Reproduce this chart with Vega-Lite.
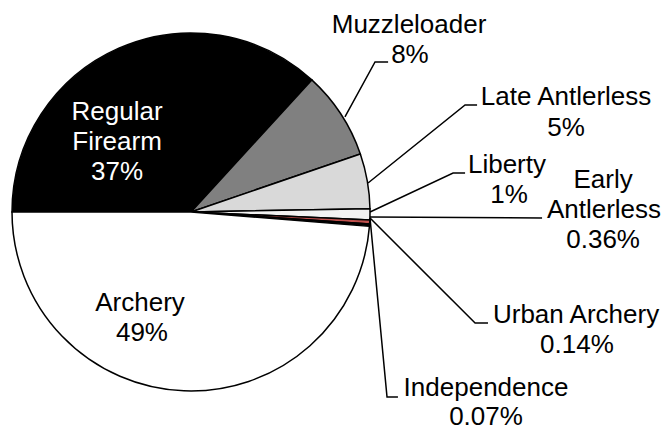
{
  "$schema": "https://vega.github.io/schema/vega-lite/v6.json",
  "width": 667,
  "height": 434,
  "padding": 0,
  "autosize": {"type": "fit", "contains": "padding"},
  "background": "white",
  "config": {"view": {"stroke": null}},
  "datasets": {
    "slices": [
      {"season": "Regular Firearm", "pct": 37, "rank": 1},
      {"season": "Muzzleloader", "pct": 8, "rank": 2},
      {"season": "Late Antlerless", "pct": 5, "rank": 3},
      {"season": "Liberty", "pct": 1, "rank": 4},
      {"season": "Early Antlerless", "pct": 0.36, "rank": 5},
      {"season": "Urban Archery", "pct": 0.14, "rank": 6},
      {"season": "Independence", "pct": 0.07, "rank": 7},
      {"season": "Archery", "pct": 49, "rank": 8}
    ],
    "leaders": [
      {"season": "Muzzleloader", "pt": 0, "x": 0.860, "y": 0.531},
      {"season": "Muzzleloader", "pt": 1, "x": 1.028, "y": 0.838},
      {"season": "Muzzleloader", "pt": 2, "x": 1.101, "y": 0.838},
      {"season": "Late Antlerless", "pt": 0, "x": 0.989, "y": 0.162},
      {"season": "Late Antlerless", "pt": 1, "x": 1.531, "y": 0.598},
      {"season": "Late Antlerless", "pt": 2, "x": 1.598, "y": 0.598},
      {"season": "Liberty", "pt": 0, "x": 1.0, "y": 0.0},
      {"season": "Liberty", "pt": 1, "x": 1.464, "y": 0.218},
      {"season": "Liberty", "pt": 2, "x": 1.531, "y": 0.218},
      {"season": "Early Antlerless", "pt": 0, "x": 1.0, "y": -0.028},
      {"season": "Early Antlerless", "pt": 1, "x": 1.961, "y": -0.034},
      {"season": "Urban Archery", "pt": 0, "x": 1.0, "y": -0.034},
      {"season": "Urban Archery", "pt": 1, "x": 1.587, "y": -0.620},
      {"season": "Urban Archery", "pt": 2, "x": 1.659, "y": -0.620},
      {"season": "Independence", "pt": 0, "x": 1.0, "y": -0.034},
      {"season": "Independence", "pt": 1, "x": 1.095, "y": -1.034},
      {"season": "Independence", "pt": 2, "x": 1.156, "y": -1.034}
    ],
    "labels": [
      {"text": "Regular", "x": -0.413, "y": 0.559, "inside": "dark"},
      {"text": "Firearm", "x": -0.413, "y": 0.391, "inside": "dark"},
      {"text": "37%", "x": -0.413, "y": 0.223, "inside": "dark"},
      {"text": "Archery", "x": -0.285, "y": -0.508, "inside": "light"},
      {"text": "49%", "x": -0.274, "y": -0.676, "inside": "light"},
      {"text": "Muzzleloader", "x": 1.218, "y": 1.045, "inside": "light"},
      {"text": "8%", "x": 1.223, "y": 0.877, "inside": "light"},
      {"text": "Late Antlerless", "x": 2.095, "y": 0.642, "inside": "light"},
      {"text": "5%", "x": 2.095, "y": 0.469, "inside": "light"},
      {"text": "Liberty", "x": 1.765, "y": 0.263, "inside": "light"},
      {"text": "1%", "x": 1.777, "y": 0.095, "inside": "light"},
      {"text": "Early", "x": 2.302, "y": 0.179, "inside": "light"},
      {"text": "Antlerless", "x": 2.307, "y": 0.011, "inside": "light"},
      {"text": "0.36%", "x": 2.302, "y": -0.156, "inside": "light"},
      {"text": "Urban Archery", "x": 2.151, "y": -0.575, "inside": "light"},
      {"text": "0.14%", "x": 2.156, "y": -0.743, "inside": "light"},
      {"text": "Independence", "x": 1.648, "y": -0.983, "inside": "light"},
      {"text": "0.07%", "x": 1.648, "y": -1.145, "inside": "light"}
    ]
  },
  "layer": [
    {
      "data": {"name": "slices"},
      "mark": {"type": "arc", "radius": 179, "stroke": "black", "strokeWidth": 1.5},
      "encoding": {
        "x": {"datum": 0, "type": "quantitative", "scale": {"domain": [-1.067, 2.659], "nice": false, "zero": false}, "axis": null},
        "y": {"datum": 0, "type": "quantitative", "scale": {"domain": [-1.240, 1.184], "nice": false, "zero": false}, "axis": null},
        "theta": {"field": "pct", "type": "quantitative", "stack": true, "scale": {"range": [4.712389, 10.995574]}},
        "order": {"field": "rank", "type": "quantitative"},
        "color": {
          "field": "season", "type": "nominal", "legend": null,
          "scale": {
            "domain": ["Regular Firearm", "Muzzleloader", "Late Antlerless", "Liberty", "Early Antlerless", "Urban Archery", "Independence", "Archery"],
            "range": ["#000000", "#808080", "#d9d9d9", "#f2f2f2", "#c0504d", "#000000", "#000000", "#ffffff"]
          }
        }
      }
    },
    {
      "data": {"name": "leaders"},
      "mark": {"type": "line", "color": "black", "strokeWidth": 1.5},
      "encoding": {
        "x": {"field": "x", "type": "quantitative", "scale": {"domain": [-1.067, 2.659], "nice": false, "zero": false}, "axis": null},
        "y": {"field": "y", "type": "quantitative", "scale": {"domain": [-1.240, 1.184], "nice": false, "zero": false}, "axis": null},
        "detail": {"field": "season"},
        "order": {"field": "pt", "type": "quantitative"}
      }
    },
    {
      "data": {"name": "labels"},
      "mark": {"type": "text", "font": "Liberation Sans", "fontSize": 26, "baseline": "middle", "align": "center"},
      "encoding": {
        "x": {"field": "x", "type": "quantitative", "scale": {"domain": [-1.067, 2.659], "nice": false, "zero": false}, "axis": null},
        "y": {"field": "y", "type": "quantitative", "scale": {"domain": [-1.240, 1.184], "nice": false, "zero": false}, "axis": null},
        "text": {"field": "text"},
        "color": {"condition": {"test": "datum.inside === 'dark'", "value": "white"}, "value": "black"}
      }
    }
  ]
}
